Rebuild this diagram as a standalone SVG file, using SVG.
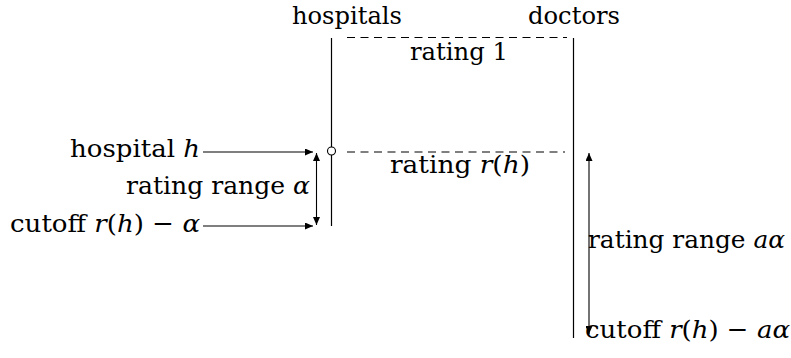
<svg xmlns="http://www.w3.org/2000/svg" width="791" height="358" viewBox="0 0 791 358">
<style>
text{font-family:"DejaVu Serif","Liberation Serif",serif;font-size:25px;fill:#000}
.m{font-style:italic}
.ax{stroke:#000;stroke-width:1.2;fill:none}
.dash{stroke:#000;stroke-width:1.1;stroke-dasharray:8 5.5;fill:none}
.arr{stroke:#000;stroke-width:1.1;fill:none;marker-end:url(#ah)}
.dbl{stroke:#000;stroke-width:1.1;fill:none;marker-end:url(#ah);marker-start:url(#ah)}
</style>
<defs>
<marker id="ah" markerUnits="userSpaceOnUse" markerWidth="9" markerHeight="7" refX="8" refY="3.5" orient="auto-start-reverse">
<path d="M0,0 L8,3.5 L0,7 Z" fill="#000"/>
</marker>
</defs>
<g id="hospitals">
<line class="ax" x1="331.5" y1="38" x2="331.5" y2="226"/>
<text x="292" y="24" textLength="110" lengthAdjust="spacingAndGlyphs">hospitals</text>
</g>
<g id="doctors">
<line class="ax" x1="573.5" y1="38" x2="573.5" y2="338"/>
<text x="528" y="24" textLength="92" lengthAdjust="spacingAndGlyphs">doctors</text>
</g>
<g id="rating-1">
<line class="dash" x1="347" y1="37.5" x2="567" y2="37.5"/>
<text x="410" y="60" textLength="98" lengthAdjust="spacingAndGlyphs">rating 1</text>
</g>
<g id="rating-rh">
<circle cx="331.5" cy="151" r="4" fill="#fff" stroke="#000" stroke-width="1.1"/>
<line class="dash" x1="347" y1="152" x2="565" y2="152"/>
<text x="390" y="173" textLength="140" lengthAdjust="spacingAndGlyphs">rating <tspan class="m">r</tspan>(<tspan class="m">h</tspan>)</text>
</g>
<g id="hospital-h">
<text x="70" y="157" textLength="130" lengthAdjust="spacingAndGlyphs">hospital <tspan class="m">h</tspan></text>
</g>
<g id="rating-range-alpha">
<text x="126" y="194" textLength="184" lengthAdjust="spacingAndGlyphs">rating range <tspan class="m">α</tspan></text>
</g>
<g id="cutoff-alpha">
<text x="10" y="232" textLength="190" lengthAdjust="spacingAndGlyphs">cutoff <tspan class="m">r</tspan>(<tspan class="m">h</tspan>) − <tspan class="m">α</tspan></text>
</g>
<g id="rating-range-aalpha">
<text x="588" y="248" textLength="197" lengthAdjust="spacingAndGlyphs">rating range <tspan class="m">aα</tspan></text>
</g>
<g id="cutoff-aalpha">
<text x="585" y="338" textLength="205" lengthAdjust="spacingAndGlyphs">cutoff <tspan class="m">r</tspan>(<tspan class="m">h</tspan>) − <tspan class="m">aα</tspan></text>
</g>
<g id="connectors">
<line class="arr" x1="203" y1="152" x2="313" y2="152"/>
<line class="arr" x1="203" y1="226" x2="313" y2="226"/>
<line class="dbl" x1="316.5" y1="153" x2="316.5" y2="225"/>
<line class="dbl" x1="589" y1="153" x2="589" y2="334"/>
</g>
</svg>
